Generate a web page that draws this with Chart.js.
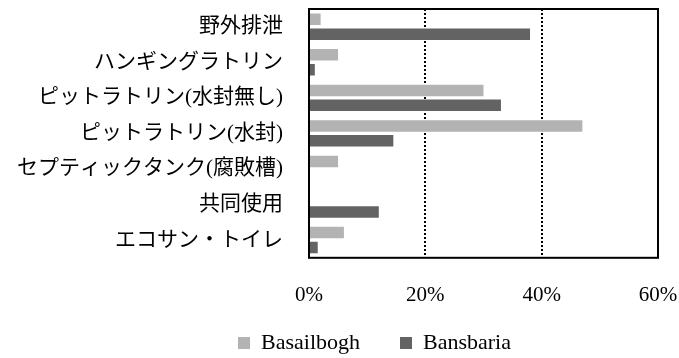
<!DOCTYPE html>
<html>
<head>
<meta charset="utf-8">
<script src="https://cdn.jsdelivr.net/npm/chart.js@4/dist/chart.umd.min.js"></script>
<style>
  html, body { margin: 0; padding: 0; background: #fff; }
  #wrap { width: 679px; height: 358px; }
</style>
</head>
<body>
<div id="wrap"><canvas id="chart-toilet"></canvas></div>
<script>
const categories = [
    "野外排泄",
    "ハンギングラトリン",
    "ピットラトリン(水封無し)",
    "ピットラトリン(水封)",
    "セプティックタンク(腐敗槽)",
    "共同使用",
    "エコサン・トイレ"
];
const basailbogh = [2, 5, 30, 47, 5, 0, 6];
const bansbaria = [38, 1, 33, 14.5, 0, 12, 1.5];
const xTicks = [0, 20, 40, 60];

const fontFamily = "'Liberation Serif', 'Noto Sans CJK JP', serif";

// black frame round the plot area
const frame = {
    id: "frame",
    afterDatasetsDraw(chart) {
        const { ctx, chartArea: a } = chart;
        ctx.save();
        ctx.strokeStyle = "#000";
        ctx.lineWidth = 2;
        ctx.strokeRect(a.left, a.top, a.right - a.left, a.bottom - a.top);
        ctx.restore();
    }
};

// legend sits a little lower and right of the default spot
const legendPlace = {
    id: "legendPlace",
    afterLayout(chart) {
        const lg = chart.legend;
        lg.left = 70;
        lg.right = 679;
        lg.top = 292;
        lg.bottom = 358;
        lg.width = lg.right - lg.left;
        lg.height = lg.bottom - lg.top;
    }
};

Chart.defaults.color = "#000";

new Chart(document.getElementById("chart-toilet").getContext("2d"), {
    type: "bar",
    data: {
        labels: categories,
        datasets: [
            { label: "Basailbogh", data: basailbogh, backgroundColor: "#b3b3b3" },
            { label: "Bansbaria", data: bansbaria, backgroundColor: "#636363" }
        ]
    },
    options: {
        indexAxis: "y",
        responsive: true,
        maintainAspectRatio: false,
        animation: false,
        categoryPercentage: 0.84,
        barPercentage: 0.77,
        layout: { padding: { left: 0, right: 21, top: 9, bottom: 0 } },
        plugins: {
            tooltip: { enabled: false },
            legend: {
                position: "bottom",
                maxHeight: 50,
                labels: {
                    boxWidth: 12,
                    boxHeight: 12,
                    padding: 40,
                    font: { family: fontFamily, size: 22 }
                }
            }
        },
        scales: {
            x: {
                min: 0,
                max: 60,
                afterBuildTicks(scale) {
                    scale.ticks = xTicks.map(v => ({ value: v }));
                },
                border: { display: false, dash: [2, 2] },
                grid: {
                    drawTicks: true,
                    tickLength: 25,
                    tickColor: "transparent",
                    lineWidth: 2,
                    color: c => (c.tick && (c.tick.value === 20 || c.tick.value === 40)) ? "#000" : "transparent"
                },
                ticks: {
                    padding: 0,
                    maxRotation: 0,
                    font: { family: fontFamily, size: 21 },
                    callback: v => v + "%"
                }
            },
            y: {
                afterFit(scale) { scale.width = 309; },
                border: { display: false },
                grid: {
                    color: "transparent",
                    drawTicks: true,
                    tickLength: 26
                },
                ticks: {
                    autoSkip: false,
                    padding: 0,
                    font: { family: fontFamily, size: 21, lineHeight: 0.8 }
                }
            }
        }
    },
    plugins: [frame, legendPlace]
});
</script>
</body>
</html>
